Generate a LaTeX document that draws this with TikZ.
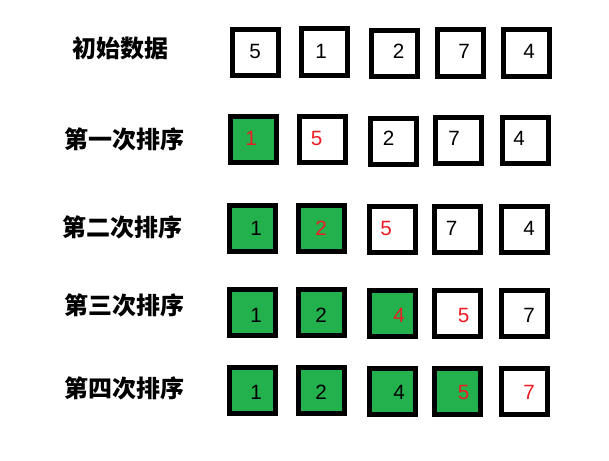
\documentclass[tikz,border=0pt]{standalone}
\usepackage{fontspec}
\setmainfont{Liberation Sans}
\newfontfamily\cjk{Noto Sans CJK SC}
\definecolor{boxgreen}{RGB}{34,177,76}
\definecolor{numred}{RGB}{237,28,36}

\begin{document}
\begin{tikzpicture}[x=0.75pt,y=-0.75pt,
  cell/.style={draw=black,line width=3.75pt,minimum size=34.5pt,inner sep=0pt},
  num/.style={anchor=base,inner sep=0pt,font=\fontsize{15.5}{16}\selectfont},
  rowname/.style={anchor=base,inner sep=0pt,font=\cjk\bfseries\fontsize{18}{20}\selectfont}]

\useasboundingbox (0,0) rectangle (609,460);

% row names
\node[rowname] (t0) at (120,58) {初始数据};
\node[rowname] (t1) at (124,148) {第一次排序};
\node[rowname] (t2) at (122.5,236) {第二次排序};
\node[rowname] (t3) at (124,314) {第三次排序};
\node[rowname] (t4) at (124,397) {第四次排序};

% initial data
\foreach \bx/\by/\f/\d/\nx/\c [count=\i] in {255.5/52.5/white/5/255/black, 324/52/white/1/321/black, 394.8/53.5/white/2/398.5/black, 460/53/white/7/464/black, 526.7/53/white/4/529/black}
{
  \node[cell,fill=\f] (a\i) at (\bx,\by) {};
  \node[num,text=\c] (na\i) at (\nx,59) {\d};
}

% pass 1
\foreach \bx/\by/\f/\d/\nx/\c [count=\i] in {253.5/139.5/boxgreen/1/251/numred, 322.5/139.5/white/5/316.5/numred, 393.5/141/white/2/388.5/black, 458/140.5/white/7/454/black, 525.5/140.5/white/4/519/black}
{
  \node[cell,fill=\f] (b\i) at (\bx,\by) {};
  \node[num,text=\c] (nb\i) at (\nx,145) {\d};
}

% pass 2
\foreach \bx/\by/\f/\d/\nx/\c [count=\i] in {252.5/228/boxgreen/1/256/black, 321.5/228/boxgreen/2/321/numred, 392.5/229/white/5/386/numred, 457.5/229/white/7/451.5/black, 524.5/229/white/4/529/black}
{
  \node[cell,fill=\f] (c\i) at (\bx,\by) {};
  \node[num,text=\c] (nc\i) at (\nx,235.5) {\d};
}

% pass 3
\foreach \bx/\by/\f/\d/\nx/\c [count=\i] in {252.5/312.5/boxgreen/1/256/black, 321.5/312.5/boxgreen/2/321/black, 392.5/313.5/boxgreen/4/399/numred, 457.5/313.5/white/5/463.5/numred, 524.5/313.5/white/7/529/black}
{
  \node[cell,fill=\f] (d\i) at (\bx,\by) {};
  \node[num,text=\c] (nd\i) at (\nx,322) {\d};
}

% pass 4
\foreach \bx/\by/\f/\d/\nx/\c [count=\i] in {252.5/390.5/boxgreen/1/256/black, 321.5/390.5/boxgreen/2/321/black, 392.5/391.5/boxgreen/4/399/black, 457.5/391.5/boxgreen/5/463.5/numred, 524.5/391.5/white/7/529/numred}
{
  \node[cell,fill=\f] (e\i) at (\bx,\by) {};
  \node[num,text=\c] (ne\i) at (\nx,399.5) {\d};
}

\end{tikzpicture}
\end{document}
